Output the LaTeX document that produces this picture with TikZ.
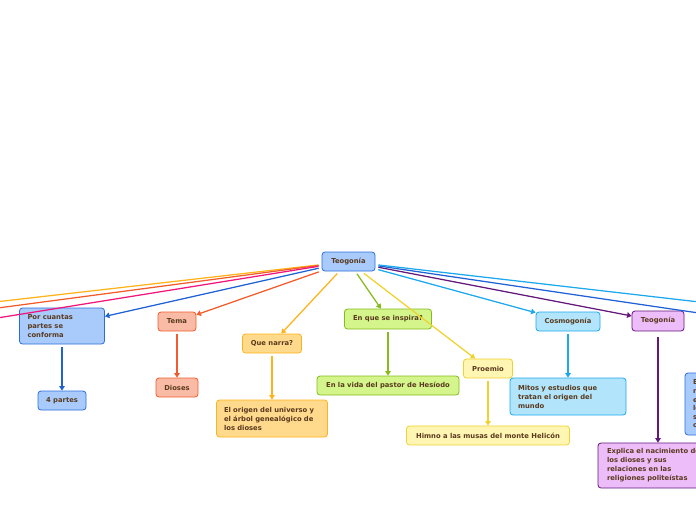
\documentclass[tikz,border=0pt]{standalone}
\usepackage{fontspec}
\setmainfont{DejaVu Sans}
\usetikzlibrary{arrows.meta}
\definecolor{txt}{HTML}{5A3A1E}
\definecolor{bfill}{HTML}{A9CBFC}\definecolor{bline}{HTML}{2B6ED9}
\definecolor{sfill}{HTML}{F9BBA6}\definecolor{sline}{HTML}{F25C2B}
\definecolor{ofill}{HTML}{FFD98C}\definecolor{oline}{HTML}{FFB31A}
\definecolor{gfill}{HTML}{D3F58B}\definecolor{gline}{HTML}{86BB1A}
\definecolor{yfill}{HTML}{FFF6B3}\definecolor{yline}{HTML}{EFD22E}
\definecolor{cfill}{HTML}{B2E5FB}\definecolor{cline}{HTML}{1BA8EC}
\definecolor{pfill}{HTML}{EDBDF9}\definecolor{pline}{HTML}{64187A}
\definecolor{pinkl}{HTML}{F0157A}
\definecolor{blued}{HTML}{1F62D6}
\tikzset{
  mbox/.style={draw, rounded corners=3pt, line width=0.8pt, inner sep=0pt,
    font=\fontsize{6.8}{9}\selectfont\bfseries, text=txt},
  conn/.style={line width=1.25pt, -{Triangle[length=4.5pt,width=5.5pt]}, shorten <=3pt},
  plain/.style={line width=1.25pt, shorten <=3pt},
}
\begin{document}
\begin{tikzpicture}[x=1pt,y=-1pt]
\useasboundingbox (0,0) rectangle (696,520);
\clip (0,0) rectangle (696,520);
% nodes
\node[mbox, fill=bfill, draw=bline, minimum width=53pt, minimum height=19pt] (root) at (348.5,261.5) {Teogonía};
\node[mbox, fill=bfill, draw=bline, minimum width=85pt, minimum height=36pt, text width=69pt, align=left] (por) at (62,326) {Por cuantas\\partes se\\conforma};
\node[mbox, fill=bfill, draw=bline, minimum width=48pt, minimum height=19pt] (cuatro) at (62,400.5) {4 partes};
\node[mbox, fill=sfill, draw=sline, minimum width=38pt, minimum height=19pt] (tema) at (177,321.5) {Tema};
\node[mbox, fill=sfill, draw=sline, minimum width=42pt, minimum height=19pt] (dioses) at (177,387.5) {Dioses};
\node[mbox, fill=ofill, draw=oline, minimum width=59pt, minimum height=19pt] (narra) at (272,343.5) {Que narra?};
\node[mbox, fill=ofill, draw=oline, minimum width=111pt, minimum height=37pt, text width=96pt, align=left] (origen) at (272,418.5) {El origen del universo y\\el árbol genealógico de\\los dioses};
\node[mbox, fill=gfill, draw=gline, minimum width=87pt, minimum height=20pt] (inspira) at (388,319) {En que se inspira?};
\node[mbox, fill=gfill, draw=gline, minimum width=142pt, minimum height=19pt] (vida) at (388,385.5) {En la vida del pastor de Hesíodo};
\node[mbox, fill=yfill, draw=yline, minimum width=49pt, minimum height=19pt] (proemio) at (488,368.5) {Proemio};
\node[mbox, fill=yfill, draw=yline, minimum width=163pt, minimum height=19pt] (himno) at (488,435.5) {Himno a las musas del monte Helicón};
\node[mbox, fill=cfill, draw=cline, minimum width=64pt, minimum height=19pt] (cosmo) at (568,321.5) {Cosmogonía};
\node[mbox, fill=cfill, draw=cline, minimum width=116pt, minimum height=37pt, text width=100pt, align=left] (mitos) at (568,396.5) {Mitos y estudios que\\tratan el origen del\\mundo};
\node[mbox, fill=pfill, draw=pline, minimum width=52pt, minimum height=20pt] (teo) at (658,321) {Teogonía};
\node[mbox, fill=pfill, draw=pline, minimum width=124pt, minimum height=45pt, text width=106pt, align=left] (explica) at (660,465.5) {Explica el nacimiento de\\los dioses y sus\\relaciones en las\\religiones politeístas};
\node[mbox, fill=bfill, draw=bline, minimum width=90pt, minimum height=62pt, text width=74pt, align=left, font=\fontsize{6.8}{8.6}\selectfont\bfseries] (otro) at (730,404) {Es un poema\\narrativo\\en el que\\los dioses\\se\\cuentan};
% off-frame ends
\coordinate (offA) at (-40,306);
\coordinate (offB) at (-40,313);
\coordinate (offC) at (-40,324);
\coordinate (offD) at (760,309);
\coordinate (offE) at (760,322);
% connectors from root
\draw[plain, draw=oline] (root) -- (offA);
\draw[plain, draw=sline] (root) -- (offB);
\draw[plain, draw=pinkl] (root) -- (offC);
\draw[conn, draw=blued, fill=blued] (root) -- (por);
\draw[conn, draw=sline, fill=sline] (root) -- (tema);
\draw[conn, draw=oline, fill=oline] (root) -- (narra);
\draw[conn, draw=gline, fill=gline] (root) -- (inspira);
\draw[conn, draw=yline, fill=yline] (root) -- (proemio);
\draw[conn, draw=cline, fill=cline] (root) -- (cosmo);
\draw[conn, draw=pline, fill=pline] (root) -- (teo);
\draw[plain, draw=blued] (root) -- (offE);
\draw[plain, draw=cline] (root) -- (offD);
% child connectors
\draw[conn, draw=blued, fill=blued] (por) -- (cuatro);
\draw[conn, draw=sline, fill=sline] (tema) -- (dioses);
\draw[conn, draw=oline, fill=oline] (narra) -- (origen);
\draw[conn, draw=gline, fill=gline] (inspira) -- (vida);
\draw[conn, draw=yline, fill=yline] (proemio) -- (himno);
\draw[conn, draw=cline, fill=cline] (cosmo) -- (mitos);
\draw[conn, draw=pline, fill=pline] (teo.south) ++(0,3) coordinate (teoS) -- (explica.north -| teoS);
\end{tikzpicture}
\end{document}
